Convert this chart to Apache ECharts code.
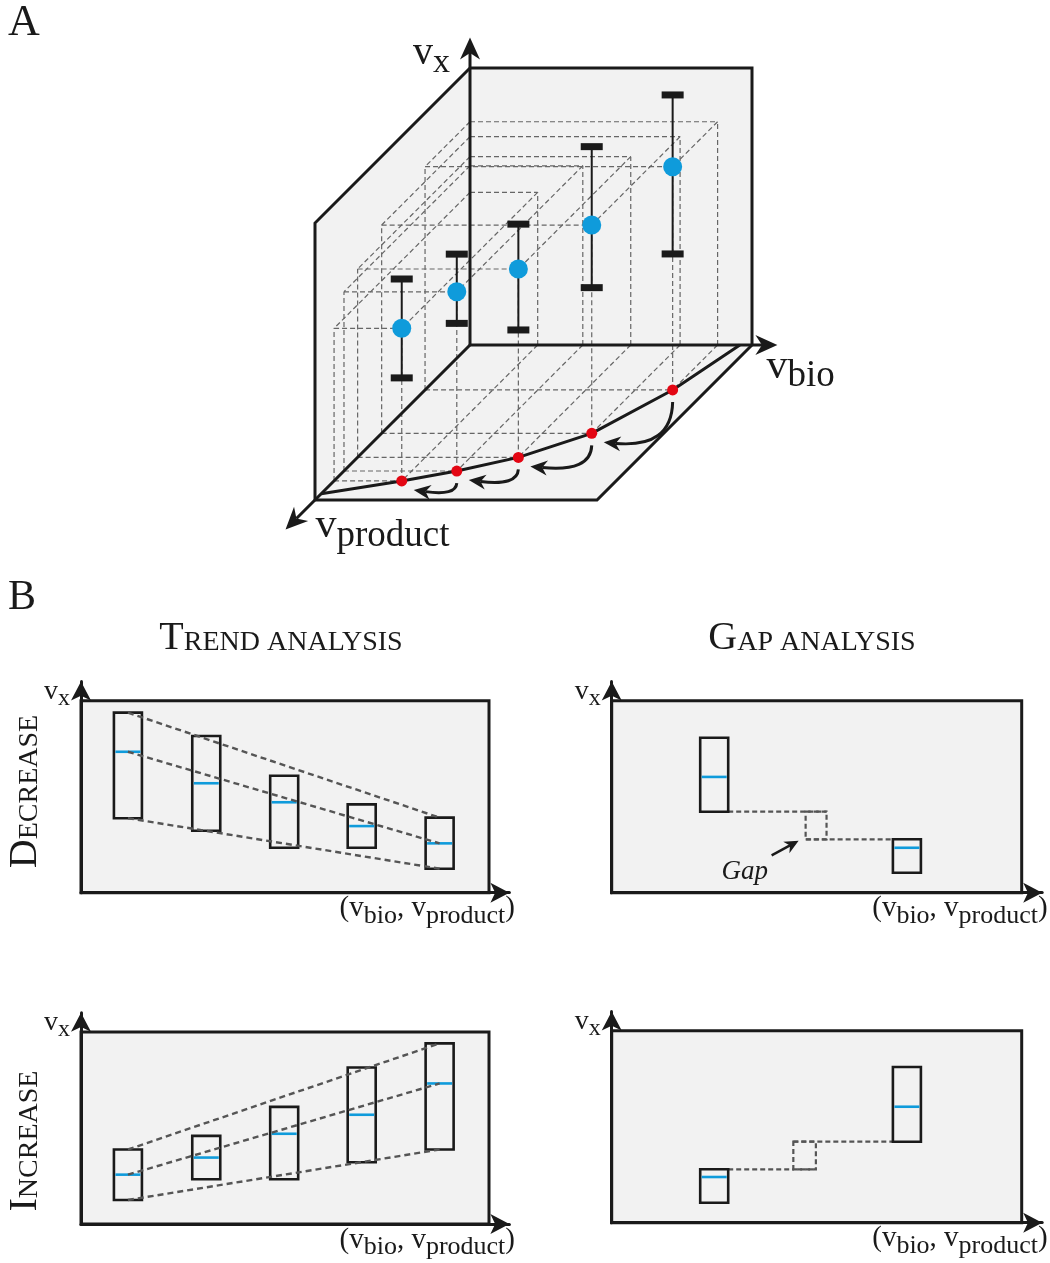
<!DOCTYPE html>
<html>
<head>
<meta charset="utf-8">
<script src="https://cdn.jsdelivr.net/npm/echarts@6/dist/echarts.min.js"></script>
<style>
  html, body { margin: 0; padding: 0; background: #fff; }
  #main { width: 1050px; height: 1263px; }
</style>
</head>
<body>
<div id="main"></div>
<script>
// ---------- panel A : five designs in (v_bio, v_product, v_x) space, scaled 0..1
const bioFlux     = [0.240, 0.400, 0.570, 0.745, 0.878];
const productFlux = [0.877, 0.813, 0.725, 0.570, 0.290];
const xMid        = [0.551, 0.647, 0.680, 0.752, 0.806];
const xLow        = [0.372, 0.533, 0.460, 0.526, 0.491];
const xHigh       = [0.729, 0.783, 0.842, 1.035, 1.065];
// production envelope on the floor
const frontBio     = [0.000, 0.240, 0.400, 0.570, 0.745, 0.878, 0.957];
const frontProduct = [0.960, 0.877, 0.813, 0.725, 0.570, 0.290, 0.000];

// ---------- panel B : trend analysis (box = range, blue = mid)
const trendPos = [1.15, 3.07, 4.98, 6.88, 8.79];
const decLow  = [3.88, 3.23, 2.34, 2.34, 1.25];
const decMid  = [7.34, 5.70, 4.71, 3.47, 2.57];
const decHigh = [9.38, 8.16, 6.09, 4.60, 3.91];
const incLow  = [1.25, 2.33, 2.33, 3.22, 3.88];
const incMid  = [2.57, 3.46, 4.70, 5.69, 7.32];
const incHigh = [3.88, 4.59, 6.10, 8.15, 9.41];

// ---------- panel B : gap analysis
const gapPos     = [2.50, 7.20];
const gapDecLow  = [4.22, 1.04];
const gapDecMid  = [6.03, 2.34];
const gapDecHigh = [8.07, 2.78];
const gapDecSpan = [4.73, 5.24];
const gapIncLow  = [1.04, 4.22];
const gapIncMid  = [2.38, 6.04];
const gapIncHigh = [2.78, 8.11];
const gapIncSpan = [4.43, 4.98];

// ---------- styles
const SERIF = '"Liberation Serif", "DejaVu Serif", serif';
const INK = '#1a1a1a';
const BLUE = '#0f9bdb';
const RED = '#e30613';
const WALL = '#f2f2f2';
const DASH = '#666666';
const BOX_W = 28;

// oblique projection of the box in panel A (px per unit along each direction)
const BIO_LEN = 282, PROD_LEN = 155, X_LEN = 277;
const proj = (b, p, x) => [b * BIO_LEN - p * PROD_LEN, x * X_LEN - p * PROD_LEN];
const pt = (api, b, p, x) => api.coord(proj(b, p, x));

const measure = document.createElement('canvas').getContext('2d');
function textWidth(str, size, style) {
  measure.font = (style || 'normal') + ' ' + size + 'px ' + SERIF;
  return measure.measureText(str).width;
}
// pieces: [text, fontSize, drop below baseline, fontStyle]
function textRun(x, baseline, pieces, align) {
  const w = pieces.map(q => textWidth(q[0], q[1], q[3]));
  const total = w.reduce((s, v) => s + v, 0);
  let cx = align === 'right' ? x - total : align === 'center' ? x - total / 2 : x;
  return pieces.map((q, i) => {
    const el = {
      type: 'text', x: cx, y: baseline + (q[2] || 0) - 0.34 * q[1],
      style: { text: q[0], fontSize: q[1], fontFamily: SERIF, fontStyle: q[3] || 'normal',
               fill: INK, align: 'left', verticalAlign: 'middle' }
    };
    cx += w[i];
    return el;
  });
}
function arrow(s, t, len, wid, lw, curveCp) {
  // straight or quadratic curve ending in a notched arrow head at t
  const from = curveCp || s;
  const dx = t[0] - from[0], dy = t[1] - from[1], L = Math.hypot(dx, dy);
  const ux = dx / L, uy = dy / L, nx = -uy, ny = ux;
  const back = [t[0] - ux * len, t[1] - uy * len];
  const notch = [t[0] - ux * len * 0.7, t[1] - uy * len * 0.7];
  const stroke = curveCp
    ? { type: 'bezierCurve', shape: { x1: s[0], y1: s[1], x2: notch[0], y2: notch[1], cpx1: curveCp[0], cpy1: curveCp[1] },
        style: { stroke: INK, lineWidth: lw, fill: 'none' } }
    : { type: 'line', shape: { x1: s[0], y1: s[1], x2: notch[0], y2: notch[1] }, style: { stroke: INK, lineWidth: lw } };
  return [stroke, {
    type: 'polygon',
    shape: { points: [t, [back[0] + nx * wid / 2, back[1] + ny * wid / 2], notch, [back[0] - nx * wid / 2, back[1] - ny * wid / 2]] },
    style: { fill: INK }
  }];
}

// ---------- panel A renderers
function renderWalls(params, api) {
  const poly = pts => ({ type: 'polygon', shape: { points: pts.map(q => pt(api, q[0], q[1], q[2])) }, style: { fill: WALL } });
  return { type: 'group', children: [
    poly([[0, 0, 0], [1, 0, 0], [1, 0, 1], [0, 0, 1]]),
    poly([[0, 0, 0], [0, 1, 0], [0, 1, 1], [0, 0, 1]]),
    poly([[0, 0, 0], [1, 0, 0], [1, 1, 0], [0, 1, 0]])
  ] };
}

function renderCuboid(params, api) {
  const b = api.value(0), p = api.value(1), x = api.value(2);
  const edges = [
    [[0, p, 0], [b, p, 0]], [[0, 0, x], [b, 0, x]], [[0, p, x], [b, p, x]],
    [[b, 0, 0], [b, p, 0]], [[0, 0, x], [0, p, x]], [[b, 0, x], [b, p, x]],
    [[b, 0, 0], [b, 0, x]], [[0, p, 0], [0, p, x]], [[b, p, 0], [b, p, x]]
  ];
  return { type: 'group', children: edges.map(e => {
    const s = pt(api, ...e[0]), t = pt(api, ...e[1]);
    return { type: 'line', shape: { x1: s[0], y1: s[1], x2: t[0], y2: t[1] },
             style: { stroke: DASH, lineWidth: 1.2, lineDash: [5, 3] } };
  }) };
}

function renderBox3d(params, api) {
  const line = pts => ({ type: 'polyline', shape: { points: pts.map(q => pt(api, q[0], q[1], q[2])) },
                         style: { stroke: INK, lineWidth: 3, fill: 'none', lineJoin: 'miter' } });
  const o = pt(api, 0, 0, 0);
  const tx = pt(api, 0, 0, 1.11), tb = pt(api, 1.09, 0, 0), tp = pt(api, 0, 1.19, 0);
  return { type: 'group', children: [
    line([[0, 0, 1], [1, 0, 1], [1, 0, 0]]),
    line([[0, 0, 1], [0, 1, 1], [0, 1, 0]]),
    line([[1, 0, 0], [1, 1, 0], [0, 1, 0]]),
    ...arrow(o, tx, 22, 20, 3),
    ...arrow(o, tb, 22, 20, 3),
    ...arrow(o, tp, 22, 20, 3),
    ...textRun(tx[0] - 57, tx[1] + 30, [['v', 40], ['x', 34, 7]], 'left'),
    ...textRun(tb[0] - 11, tb[1] + 36, [['v', 42], ['bio', 37, 8]], 'left'),
    ...textRun(tp[0] + 30, tp[1] + 11, [['v', 42], ['product', 37, 8]], 'left')
  ] };
}

function renderShift(params, api) {
  const s0 = pt(api, api.value(0), api.value(1), 0);
  const e0 = pt(api, api.value(2), api.value(3), 0);
  const s = [s0[0], s0[1] + 12], e = [e0[0] + 12, e0[1] + 9];
  return { type: 'group', children: arrow(s, e, 17, 15, 3, [s[0] - 1, e[1] + 6]) };
}

function renderErrorBar(params, api) {
  const b = api.value(0), p = api.value(1);
  const lo = pt(api, b, p, api.value(2)), hi = pt(api, b, p, api.value(3));
  const cap = c => ({ type: 'rect', shape: { x: c[0] - 11, y: c[1] - 3.5, width: 22, height: 7 }, style: { fill: INK } });
  return { type: 'group', children: [
    { type: 'line', shape: { x1: lo[0], y1: lo[1], x2: hi[0], y2: hi[1] }, style: { stroke: INK, lineWidth: 2 } },
    cap(lo), cap(hi)
  ] };
}

// ---------- panel B renderers
function renderFrame(params, api) {
  const a = api.coord([0, 10]), b = api.coord([10, 0]);
  return { type: 'rect', shape: { x: a[0], y: a[1], width: b[0] - a[0], height: b[1] - a[1] },
           style: { fill: WALL, stroke: INK, lineWidth: 3 } };
}

function renderRangeBox(params, api) {
  const xc = api.value(0);
  const lo = api.coord([xc, api.value(1)]), mid = api.coord([xc, api.value(2)]), hi = api.coord([xc, api.value(3)]);
  return { type: 'group', children: [
    { type: 'rect', shape: { x: hi[0] - BOX_W / 2, y: hi[1], width: BOX_W, height: lo[1] - hi[1] },
      style: { fill: 'none', stroke: INK, lineWidth: 2.6 } },
    { type: 'line', shape: { x1: mid[0] - BOX_W / 2 + 1.5, y1: mid[1], x2: mid[0] + BOX_W / 2 - 1.5, y2: mid[1] },
      style: { stroke: BLUE, lineWidth: 2.6 } }
  ] };
}

function renderGap(withLabel) {
  return function (params, api) {
    const l1 = api.value(1), l2 = api.value(3);
    const a = api.coord([api.value(0), l1]), b = api.coord([api.value(5), l1]);
    const c = api.coord([api.value(4), l2]), d = api.coord([api.value(2), l2]);
    const dash = { stroke: '#555', lineWidth: 2.2, lineDash: [5, 3], fill: 'none' };
    const kids = [
      { type: 'line', shape: { x1: a[0] + BOX_W / 2, y1: a[1], x2: b[0], y2: b[1] }, style: dash },
      { type: 'rect', shape: { x: c[0], y: Math.min(b[1], c[1]), width: b[0] - c[0], height: Math.abs(c[1] - b[1]) }, style: dash },
      { type: 'line', shape: { x1: c[0], y1: c[1], x2: d[0] - BOX_W / 2, y2: d[1] }, style: dash }
    ];
    if (withLabel) {
      kids.push(...arrow([c[0] - 34, c[1] + 16], [c[0] - 7, c[1] + 1.5], 14, 13, 2.5));
      kids.push(...textRun(c[0] - 61, c[1] + 42, [['Gap', 27, 0, 'italic']], 'center'));
    }
    return { type: 'group', children: kids };
  };
}

// ---------- layout of the four plots in panel B
const plotBoxes = [
  { left: 81,    bottom: 892.7,  ux: 40.8 },
  { left: 611.7, bottom: 892.7,  ux: 41 },
  { left: 81,    bottom: 1224,   ux: 40.8 },
  { left: 611.7, bottom: 1222.7, ux: 41 }
];
const UY = 19.2, X_END = 10.5, Y_END = 11;

const grids = [{ left: 280, top: 35, width: 500, height: 500 }];
const xAxes = [{ type: 'value', gridIndex: 0, min: -190, max: 310, show: false }];
const yAxes = [{ type: 'value', gridIndex: 0, min: -190, max: 310, show: false }];
const axisStyle = {
  show: true, onZero: false, symbol: ['none', 'arrow'], symbolSize: [15, 19],
  lineStyle: { color: INK, width: 3 }
};
plotBoxes.forEach((p, i) => {
  grids.push({ left: p.left, top: p.bottom - Y_END * UY, width: X_END * p.ux, height: Y_END * UY });
  xAxes.push({ type: 'value', gridIndex: i + 1, min: 0, max: X_END, z: 10, axisLine: axisStyle,
               axisTick: { show: false }, axisLabel: { show: false }, splitLine: { show: false } });
  yAxes.push({ type: 'value', gridIndex: i + 1, min: 0, max: Y_END, z: 10, axisLine: axisStyle,
               axisTick: { show: false }, axisLabel: { show: false }, splitLine: { show: false } });
});
grids.forEach(g => { g.show = false; g.containLabel = false; });

const series = [];
const onGrid = (k, s) => Object.assign({ xAxisIndex: k, yAxisIndex: k, animation: false, silent: true }, s);

// panel A
series.push(onGrid(0, { type: 'custom', z: 1, clip: false, renderItem: renderWalls, data: [[0, 0]] }));
series.push(onGrid(0, { type: 'custom', z: 2, clip: false, renderItem: renderCuboid,
  data: bioFlux.map((b, i) => [b, productFlux[i], xMid[i]]) }));
series.push(onGrid(0, { type: 'custom', z: 3, clip: false, renderItem: renderBox3d, data: [[0, 0]] }));
series.push(onGrid(0, { type: 'line', z: 4, symbol: 'none', lineStyle: { color: INK, width: 3 },
  data: frontBio.map((b, i) => proj(b, frontProduct[i], 0)) }));
series.push(onGrid(0, { type: 'custom', z: 5, clip: false, renderItem: renderShift,
  data: bioFlux.slice(1).map((b, i) => [b, productFlux[i + 1], bioFlux[i], productFlux[i]]) }));
series.push(onGrid(0, { type: 'scatter', z: 6, symbolSize: 11, itemStyle: { color: RED, opacity: 1 },
  data: bioFlux.map((b, i) => proj(b, productFlux[i], 0)) }));
series.push(onGrid(0, { type: 'custom', z: 7, clip: false, renderItem: renderErrorBar,
  data: bioFlux.map((b, i) => [b, productFlux[i], xLow[i], xHigh[i]]) }));
series.push(onGrid(0, { type: 'scatter', z: 8, symbolSize: 19, itemStyle: { color: BLUE, opacity: 1 },
  data: bioFlux.map((b, i) => proj(b, productFlux[i], xMid[i])) }));

// panel B frames
[1, 2, 3, 4].forEach(k => series.push(onGrid(k, { type: 'custom', z: 1, clip: false, renderItem: renderFrame, data: [[0, 0]] })));

// trend plots
const trendSets = [[1, decLow, decMid, decHigh], [3, incLow, incMid, incHigh]];
trendSets.forEach(([k, lo, mid, hi]) => {
  series.push(onGrid(k, { type: 'custom', z: 3, clip: false, renderItem: renderRangeBox,
    data: trendPos.map((x, i) => [x, lo[i], mid[i], hi[i]]) }));
  [lo, mid, hi].forEach(arr => {
    const n = trendPos.length - 1;
    series.push(onGrid(k, { type: 'line', z: 4, symbol: 'none',
      lineStyle: { color: '#555', width: 2.4, type: [6, 4] },
      data: [[trendPos[0], arr[0]], [trendPos[n], arr[n]]] }));
  });
});

// gap plots
series.push(onGrid(2, { type: 'custom', z: 2, clip: false, renderItem: renderGap(true),
  data: [[gapPos[0], gapDecLow[0], gapPos[1], gapDecHigh[1], gapDecSpan[0], gapDecSpan[1]]] }));
series.push(onGrid(2, { type: 'custom', z: 3, clip: false, renderItem: renderRangeBox,
  data: gapPos.map((x, i) => [x, gapDecLow[i], gapDecMid[i], gapDecHigh[i]]) }));
series.push(onGrid(4, { type: 'custom', z: 2, clip: false, renderItem: renderGap(false),
  data: [[gapPos[0], gapIncHigh[0], gapPos[1], gapIncLow[1], gapIncSpan[0], gapIncSpan[1]]] }));
series.push(onGrid(4, { type: 'custom', z: 3, clip: false, renderItem: renderRangeBox,
  data: gapPos.map((x, i) => [x, gapIncLow[i], gapIncMid[i], gapIncHigh[i]]) }));

// ---------- static text
const graphics = [
  ...textRun(8, 38, [['A', 44]], 'left'),
  ...textRun(8, 612, [['B', 42]], 'left'),
  ...textRun(281, 652, [['T', 40], ['REND ANALYSIS', 28]], 'center'),
  ...textRun(812, 652, [['G', 40], ['AP ANALYSIS', 28]], 'center'),
  { type: 'group', x: 39, y: 791.5, rotation: Math.PI / 2,
    children: textRun(0, 0, [['D', 40], ['ECREASE', 28]], 'center') },
  { type: 'group', x: 39, y: 1141, rotation: Math.PI / 2,
    children: textRun(0, 0, [['I', 40], ['NCREASE', 28]], 'center') }
];
plotBoxes.forEach(p => {
  const frameTop = p.bottom - 10 * UY, frameRight = p.left + 10 * p.ux;
  graphics.push(...textRun(p.left - 11, frameTop + 0, [['v', 28], ['x', 24, 6]], 'right'));
  graphics.push(...textRun(frameRight + 26, p.bottom + 26,
    [['(v', 29], ['bio', 26, 6], [', v', 29], ['product', 26, 6], [')', 29]], 'right'));
});

const chart = echarts.init(document.getElementById('main'));
chart.setOption({
  animation: false,
  backgroundColor: '#ffffff',
  grid: grids,
  xAxis: xAxes,
  yAxis: yAxes,
  graphic: graphics,
  series: series
});
</script>
</body>
</html>
